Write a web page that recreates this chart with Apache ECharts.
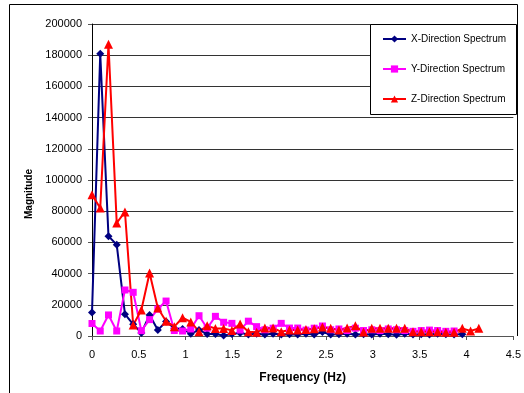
<!DOCTYPE html>
<html>
<head>
<meta charset="utf-8">
<script src="https://cdn.jsdelivr.net/npm/echarts@6/dist/echarts.min.js"></script>
<style>
html,body{margin:0;padding:0;background:#fff;}
#chart{width:524px;height:393px;}
</style>
</head>
<body>
<div id="chart"></div>
<script>
// Frequency bins (Hz)
var freq = [0, 0.088, 0.176, 0.264, 0.352, 0.44, 0.527, 0.615, 0.703, 0.791, 0.879, 0.967, 1.055, 1.143, 1.23, 1.318, 1.406, 1.494, 1.582, 1.67, 1.758, 1.846, 1.934, 2.021, 2.109, 2.197, 2.285, 2.373, 2.461, 2.549, 2.637, 2.725, 2.813, 2.9, 2.988, 3.076, 3.164, 3.252, 3.34, 3.428, 3.516, 3.604, 3.691, 3.779, 3.867, 3.955, 4.043, 4.131];

var xSpectrum = [15000, 181000, 64000, 58500, 14000, 7500, 2000, 13500, 3800, 9300, 5000, 4500, 1500, 3800, 1300, 1300, 300, 1300, 2000, 1000, 1500, 1000, 1500, 1000, 1200, 1000, 1500, 1000, 2500, 1000, 1200, 1500, 1000, 1200, 1000, 1500, 1200, 800, 1500, 1000, 1200, 1000, 1500, 1200, 1000, 1200];

var ySpectrum = [8000, 3200, 13500, 3200, 29500, 28000, 3400, 10500, 17300, 22400, 3500, 3200, 4500, 13000, 5000, 12600, 8800, 8100, 3800, 9500, 6000, 4000, 5000, 8100, 5100, 5100, 3800, 5000, 6400, 4000, 4500, 3500, 5000, 3500, 4000, 3500, 4500, 4000, 3500, 3000, 3500, 3800, 3500, 3000, 3200];

var zSpectrum = [90500, 82000, 187000, 72500, 79500, 7000, 16700, 40400, 17900, 9500, 6000, 11700, 9000, 2800, 6500, 4800, 4800, 3600, 7700, 2700, 2400, 5100, 5200, 2700, 3900, 3800, 4200, 4700, 5700, 5000, 3800, 5200, 6500, 2600, 4900, 4900, 4900, 4900, 4900, 2800, 2800, 2800, 2800, 2400, 2400, 4900, 3200, 4900];

var seriesNames = ['X-Direction Spectrum', 'Y-Direction Spectrum', 'Z-Direction Spectrum'];
var yTicks = {min: 0, max: 200000, step: 20000};
var xTicks = {min: 0, max: 4.5, step: 0.5};

function pairs(vals) {
  var out = [];
  for (var i = 0; i < vals.length; i++) out.push([freq[i], vals[i]]);
  return out;
}

var FONT = '"Liberation Sans", Arial, sans-serif';
var chart = echarts.init(document.getElementById('chart'), null, {renderer: 'canvas'});
chart.setOption({
  animation: false,
  backgroundColor: '#fff',
  textStyle: {fontFamily: FONT},
  grid: {left: 92, right: 7, top: 24, bottom: 57, containLabel: false},
  xAxis: {
    type: 'value', min: xTicks.min, max: xTicks.max, interval: xTicks.step,
    name: 'Frequency (Hz)', nameLocation: 'middle', nameGap: 36,
    nameTextStyle: {fontFamily: FONT, fontSize: 12, fontWeight: 'bold', color: '#000'},
    axisLine: {lineStyle: {color: '#555', width: 1}},
    axisTick: {show: true, inside: false, length: 4, lineStyle: {color: '#555'}},
    axisLabel: {fontFamily: FONT, fontSize: 11, color: '#000', margin: 13},
    splitLine: {show: false}
  },
  yAxis: {
    type: 'value', min: yTicks.min, max: yTicks.max, interval: yTicks.step,
    name: 'Magnitude', nameLocation: 'middle', nameGap: 57, nameRotate: 90,
    nameTextStyle: {fontFamily: FONT, fontSize: 10, fontWeight: 'bold', color: '#000', padding: [0, 28, 0, 0]},
    axisLine: {show: true, lineStyle: {color: '#000', width: 1}},
    axisTick: {show: true, inside: false, length: 4, lineStyle: {color: '#555'}},
    axisLabel: {fontFamily: FONT, fontSize: 11, color: '#000', margin: 10,
      formatter: function (v) { return String(v); }},
    splitLine: {show: true, lineStyle: {color: '#333', width: 1}}
  },
  legend: {
    orient: 'vertical', left: 377, top: 28,
    itemWidth: 23, itemHeight: 9, itemGap: 18,
    textStyle: {fontFamily: FONT, fontSize: 10, color: '#000', lineHeight: 12},
    data: seriesNames
  },
  graphic: [
    {type: 'rect', z: 3, shape: {x: 370.5, y: 24.5, width: 146, height: 90},
     style: {fill: '#fff', stroke: '#000', lineWidth: 1}},
    {type: 'polyline', z: 3, shape: {points: [[9.5, 393], [9.5, 4.5], [517.5, 4.5], [517.5, 336]]},
     style: {fill: null, stroke: '#000', lineWidth: 1}}
  ],
  series: [
    {name: seriesNames[0], type: 'line', data: pairs(xSpectrum),
     symbol: 'diamond', symbolSize: 8, showAllSymbol: true,
     lineStyle: {color: '#000080', width: 2}, itemStyle: {color: '#000080'}},
    {name: seriesNames[1], type: 'line', data: pairs(ySpectrum),
     symbol: 'rect', symbolSize: 7, showAllSymbol: true,
     lineStyle: {color: '#ff00ff', width: 2}, itemStyle: {color: '#ff00ff'}},
    {name: seriesNames[2], type: 'line', data: pairs(zSpectrum),
     symbol: 'triangle', symbolSize: 9, showAllSymbol: true,
     lineStyle: {color: '#ff0000', width: 2}, itemStyle: {color: '#ff0000'}}
  ]
});
</script>
</body>
</html>
